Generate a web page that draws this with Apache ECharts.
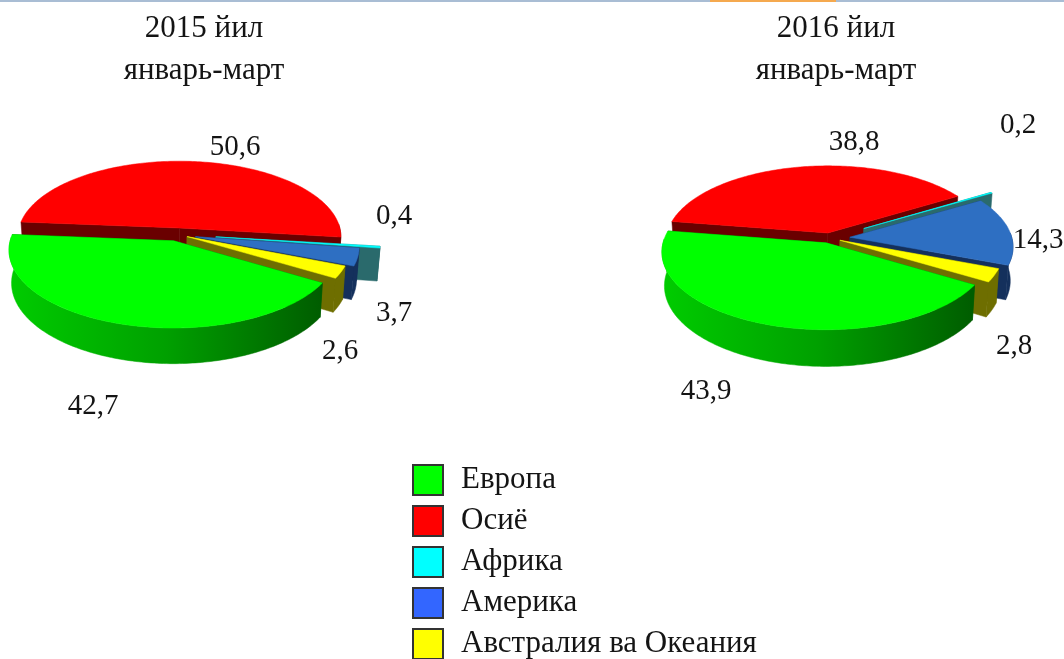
<!DOCTYPE html>
<html><head><meta charset="utf-8">
<style>html,body{margin:0;padding:0;background:#fff}#c{width:1064px;height:659px}</style>
<script src="https://cdn.jsdelivr.net/npm/echarts@6/dist/echarts.min.js"></script>
</head><body><div id="c"></div>
<script>
// ---- data ----
const categories = ['Европа', 'Осиё', 'Африка', 'Америка', 'Австралия ва Океания'];
const values2015 = [42.7, 50.6, 0.4, 3.7, 2.6];
const values2016 = [43.9, 38.8, 0.2, 14.3, 2.8];
const titles = ['2015 йил\nянварь-март', '2016 йил\nянварь-март'];

// ---- styles ----
const topColors = ['#00ff00', '#ff0000', '#00ffff', '#2e6fc2', '#ffff00'];
const legendColors = ['#00ff00', '#ff0000', '#00ffff', '#3366ff', '#ffff00'];
const wallColors = ['#006000', '#6a0000', '#2a6a6c', '#14305c', '#6e6e00'];
const paintOrder = [1, 2, 3, 4, 0];
const FONT = '"Liberation Serif","Times New Roman",serif';
const TEXT = '#141414';

// ---- layout ----
const pies = [
  { values: values2015, cx: 178, cy: 234.5, R: 162, tilt: 0.468, D: 1430, h: 33, start: 31,
    explode: [14, 14, 38, 18, 10],
    labels: [[93, 406], [235, 147], [394, 216], [394, 313], [340, 351]] },
  { values: values2016, cx: 830, cy: 238, R: 162, tilt: 0.468, D: 1430, h: 34, start: 31,
    explode: [11, 11, 40, 20, 11],
    labels: [[706, 391], [854, 142], [1018, 125], [1038, 240], [1014, 346]] }
];

function slices(pie) {
  const total = pie.values.reduce((a, b) => a + b, 0);
  let a = pie.start;
  return pie.values.map((v, i) => {
    const a1 = a, a2 = a + v / total * 360;
    a = a2;
    return { a1, a2, mid: (a1 + a2) / 2, e: pie.explode[i] };
  });
}
function project(pie, sl, ang, r, bottom) {
  const m = sl.mid * Math.PI / 180, t = ang * Math.PI / 180;
  const X = r * Math.cos(t) + sl.e * Math.cos(m);
  const Y = r * Math.sin(t) + sl.e * Math.sin(m);
  let s = pie.D / (pie.D - Y);
  if (bottom) s *= 0.985;
  return [pie.cx + X * s, pie.cy + pie.tilt * Y * s + (bottom ? pie.h * s : 0)];
}
function arc(pie, sl, from, to, bottom) {
  const pts = [], n = Math.max(2, Math.ceil(Math.abs(to - from)));
  for (let k = 0; k <= n; k++) pts.push(project(pie, sl, from + (to - from) * k / n, pie.R, bottom));
  return pts;
}
function poly(points, fill, z2) {
  return { type: 'polygon', z2, shape: { points }, style: { fill, stroke: fill, lineWidth: 0.5 } };
}
function makeRender(pie, idx) {
  const sl = slices(pie)[idx];
  return function () {
    const kids = [];
    const wall = wallColors[idx];
    const apexT = project(pie, sl, 0, 0, false), apexB = project(pie, sl, 0, 0, true);
    [sl.a1, sl.a2].forEach((a) => {
      const top = project(pie, sl, a, pie.R, false), bot = project(pie, sl, a, pie.R, true);
      kids.push(poly([apexT, top, bot, apexB], wall, 1));
    });
    // outer rim: only the part turned to the viewer
    const spans = [[sl.a1, sl.a2], [sl.a1 - 360, sl.a2 - 360]];
    spans.forEach(([p, q]) => {
      const from = Math.max(p, -3), to = Math.min(q, 183);
      if (to <= from) return;
      const up = arc(pie, sl, from, to, false), dn = arc(pie, sl, from, to, true).reverse();
      let fill = wall;
      if (idx === 0) {
        fill = new echarts.graphic.LinearGradient(0, 0, 1, 0, [
          { offset: 0, color: '#00cc00' }, { offset: 0.5, color: '#00a000' }, { offset: 1, color: '#005c00' }
        ]);
      }
      kids.push(poly(up.concat(dn), fill, 2));
    });
    kids.push(poly([apexT].concat(arc(pie, sl, sl.a1, sl.a2, false)), topColors[idx], 3));
    const lab = pie.labels[idx];
    kids.push({ type: 'text', z2: 10, style: {
      text: String(pie.values[idx]).replace('.', ','), x: lab[0], y: lab[1],
      align: 'center', verticalAlign: 'middle', fill: TEXT, font: '29px ' + FONT } });
    return { type: 'group', children: kids };
  };
}

const series = [];
pies.forEach((pie) => {
  paintOrder.forEach((idx, order) => {
    series.push({
      type: 'custom', name: categories[idx], coordinateSystem: 'none',
      z: 2 + order, silent: true, animation: false,
      itemStyle: { color: legendColors[idx] },
      data: [pie.values[idx]],
      renderItem: makeRender(pie, idx)
    });
  });
});

const chart = echarts.init(document.getElementById('c'), null, { renderer: 'canvas' });
chart.setOption({
  backgroundColor: '#fff',
  animation: false,
  title: titles.map((t, i) => ({
    text: t, left: i === 0 ? 199 : 831, top: 3, textAlign: 'center',
    textStyle: { fontFamily: FONT, fontSize: 31, fontWeight: 'normal', color: TEXT, lineHeight: 42 }
  })),
  legend: {
    orient: 'vertical', left: 412, top: 464, height: 230, padding: 0,
    itemWidth: 30, itemHeight: 30, itemGap: 9,
    selectedMode: false, icon: 'rect',
    textStyle: { fontFamily: FONT, fontSize: 31, lineHeight: 30, color: TEXT, padding: [0, 0, 0, 13] },
    data: categories.map((name, i) => ({
      name, icon: 'rect',
      itemStyle: { color: legendColors[i], borderColor: '#333', borderWidth: 2 }
    }))
  },
  graphic: [
    { type: 'rect', shape: { x: 0, y: 0, width: 1064, height: 2 }, style: { fill: '#a9bdd4' }, silent: true },
    { type: 'rect', shape: { x: 710, y: 0, width: 126, height: 2 }, style: { fill: '#f5a94f' }, silent: true }
  ],
  series
});
</script></body></html>
